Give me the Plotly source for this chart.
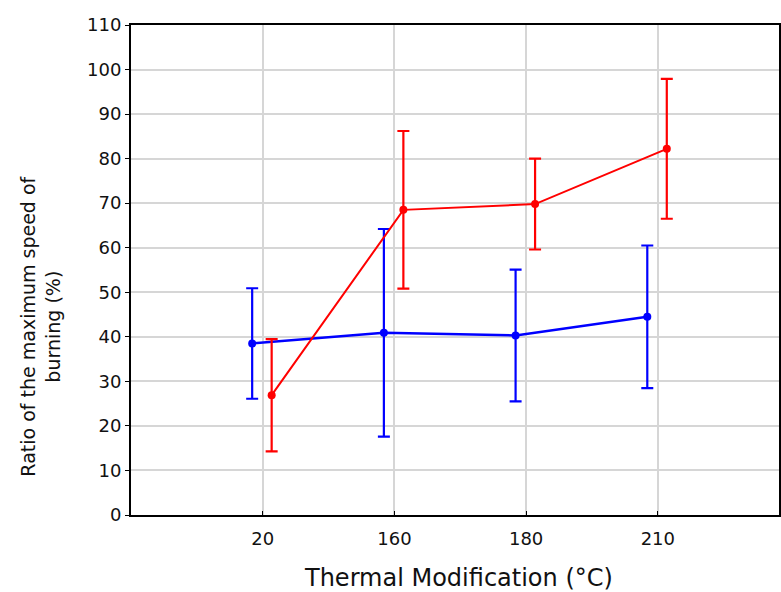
import plotly.graph_objects as go

# Thermal modification temperatures (categorical x axis)
temperatures = ["20", "160", "180", "210"]

# Series 1 (blue) – mean ratio and error half-width, %
blue_mean = [38.5, 40.9, 40.3, 44.5]
blue_err = [12.4, 23.3, 14.8, 16.0]

# Series 2 (red) – mean ratio and error half-width, %
red_mean = [26.9, 68.5, 69.8, 82.2]
red_err = [12.6, 17.7, 10.2, 15.7]

y_ticks = list(range(0, 111, 10))

base = list(range(len(temperatures)))
dodge = 0.08  # horizontal offset of each series from the category centre

font_family = "DejaVu Sans, Arial, sans-serif"

fig = go.Figure()

def add_series(means, errs, color, shift, lw):
    fig.add_trace(go.Scatter(
        x=[b + shift for b in base],
        y=means,
        mode="lines+markers",
        line=dict(color=color, width=lw),
        marker=dict(color=color, size=8),
        error_y=dict(type="data", array=errs, visible=True,
                     color=color, thickness=2.2, width=6),
        showlegend=False,
    ))

add_series(blue_mean, blue_err, "#0000ff", -dodge, 2.5)
add_series(red_mean, red_err, "#ff0000", dodge * 0.85, 2)

fig.update_layout(
    width=781, height=592,
    margin=dict(l=131, r=0, t=25, b=77),
    paper_bgcolor="white",
    plot_bgcolor="white",
    font=dict(family=font_family, size=17, color="#111"),
    annotations=[
        dict(text="Ratio of the maximum speed of<br>burning (%)",
             xref="paper", yref="paper", x=-0.14, y=0.385,
             xanchor="center", yanchor="middle", textangle=-90,
             showarrow=False, font=dict(size=19, color="#111")),
        dict(text="Thermal Modification (°C)",
             xref="paper", yref="paper", x=0.506, y=-0.1286,
             xanchor="center", yanchor="middle",
             showarrow=False, font=dict(size=24, color="#111")),
    ],
)

fig.update_xaxes(
    range=[-1, 3.92],
    tickmode="array",
    tickvals=base,
    ticktext=temperatures,
    showgrid=True, gridcolor="#d6d6d6", gridwidth=2,
    showline=True, linecolor="black", linewidth=2, mirror=True,
    ticks="inside", ticklen=4, tickcolor="black",
    zeroline=False,
    tickfont=dict(size=18),
    ticklabelstandoff=6,
)

fig.update_yaxes(
    range=[0, 110],
    tickmode="array",
    tickvals=y_ticks,
    showgrid=True, gridcolor="#d6d6d6", gridwidth=2,
    showline=True, linecolor="black", linewidth=2, mirror=True,
    ticks="outside", ticklen=4, tickcolor="black",
    zeroline=False,
    tickfont=dict(size=18),
)

fig.write_html("out.html")
